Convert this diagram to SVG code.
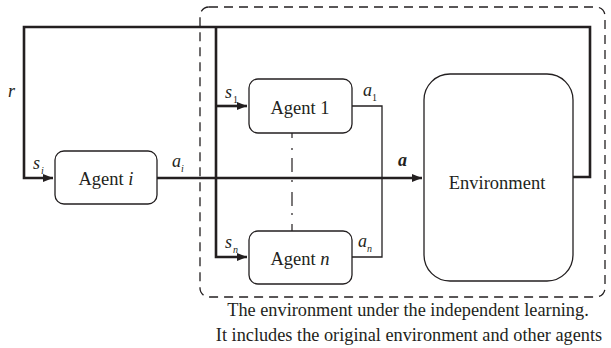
<svg xmlns="http://www.w3.org/2000/svg" width="611" height="348" viewBox="0 0 611 348">
<defs>
<marker id="ah" markerWidth="10" markerHeight="8" refX="10" refY="4" orient="auto" markerUnits="userSpaceOnUse">
<path d="M0,0 L10,4 L0,8 Z" fill="#231f20"/>
</marker>
<style>
.box{fill:#fff;stroke:#231f20;stroke-width:1.3}
.thick{fill:none;stroke:#231f20;stroke-width:2.6}
.thin{fill:none;stroke:#231f20;stroke-width:1.3}
text{font-family:'Liberation Serif','Times New Roman',serif;fill:#231f20}
.lbl{font-size:18.5px}
.it{font-size:18px;font-style:italic}
.sub{font-size:10px}
.subi{font-size:10px;font-style:italic}
.cap{font-size:18.3px}
</style>
</defs>
<rect x="200" y="7" width="405" height="290" rx="9" fill="none" stroke="#231f20" stroke-width="1.3" stroke-dasharray="9 6"/>
<g id="connectors">
<polyline class="thick" points="573,177 590,177 590,27 24,27 24,178 53,178" marker-end="url(#ah)"/>
<polyline class="thick" points="216,27 216,257 247,257" marker-end="url(#ah)"/>
<line class="thick" x1="216" y1="106" x2="247" y2="106" marker-end="url(#ah)"/>
<line class="thick" x1="157" y1="178" x2="422" y2="178" marker-end="url(#ah)"/>
<polyline class="thin" points="352,106 382,106 382,257 352,257"/>
<line x1="292" y1="127" x2="292" y2="236" stroke="#231f20" stroke-width="1.2" stroke-dasharray="11 10 2 8 14 8 2 10 14 7 2 9 12"/>
</g>
<g id="agent-i"><rect class="box" x="55" y="151" width="102" height="53" rx="9"/><text class="lbl" x="106" y="185" text-anchor="middle">Agent <tspan font-style="italic">i</tspan></text></g>
<g id="agent-1"><rect class="box" x="249" y="79" width="103" height="54" rx="9"/><text class="lbl" x="300" y="114" text-anchor="middle">Agent 1</text></g>
<g id="agent-n"><rect class="box" x="249" y="231" width="103" height="53" rx="9"/><text class="lbl" x="300" y="265" text-anchor="middle">Agent <tspan font-style="italic">n</tspan></text></g>
<g id="environment"><rect class="box" x="424" y="74" width="149" height="207" rx="26"/><text class="lbl" x="497" y="189" text-anchor="middle">Environment</text></g>
<g id="labels">
<text class="it" x="8" y="97">r</text>
<text class="it" x="33" y="169">s</text><text class="subi" x="41" y="174">i</text>
<text class="it" x="172" y="167">a</text><text class="subi" x="181" y="172">i</text>
<text class="it" x="225" y="98">s</text><text class="sub" x="233" y="103">1</text>
<text class="it" x="363" y="96">a</text><text class="sub" x="372" y="101">1</text>
<text class="it" x="398" y="166" font-weight="bold">a</text>
<text class="it" x="225" y="248">s</text><text class="subi" x="233" y="253">n</text>
<text class="it" x="358" y="247">a</text><text class="subi" x="367" y="252">n</text>
</g>
<text class="cap" x="408" y="316" text-anchor="middle">The environment under the independent learning.</text>
<text class="cap" x="409" y="341" text-anchor="middle">It includes the original environment and other agents</text>
</svg>
